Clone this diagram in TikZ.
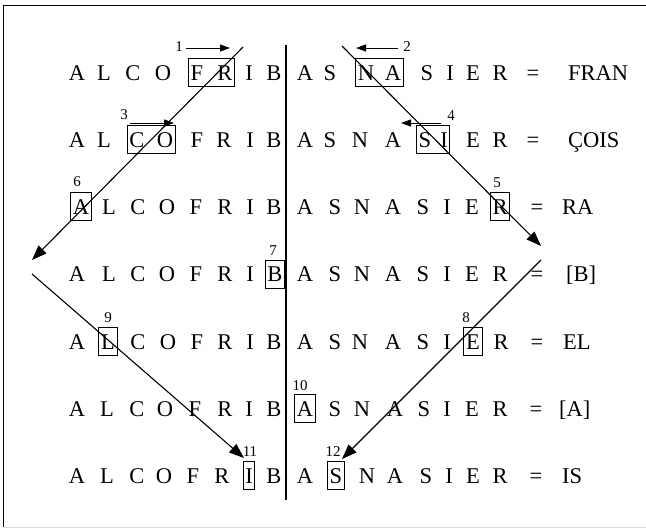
\documentclass[tikz,border=0pt]{standalone}
\usepackage{fontspec}
\setmainfont{Liberation Serif}
\usetikzlibrary{fit,arrows.meta}
\newcommand\LetterRow[6]{%
  \foreach \l/\x [count=\c] in {#3} {\node[ltr] (r#1c\c) at (\x,#2) {\l};}
  \node[ltr] (r#1eq) at (#4,#2) {=};
  \node[res] (r#1res) at (#5,#2) {#6};
}
\begin{document}
\begin{tikzpicture}[x=1pt,y=-1pt,
  ltr/.style={anchor=base, inner sep=0pt, font=\fontsize{22.5}{27}\selectfont},
  res/.style={anchor=base west, inner sep=0pt, font=\fontsize{22.5}{27}\selectfont},
  lbox/.style={draw, line width=1pt, inner xsep=2pt, inner ysep=6.5pt},
  num/.style={inner sep=0pt, font=\fontsize{15}{18}\selectfont},
  sarrow/.style={line width=1pt, -{Triangle[length=10pt,width=7pt]}},
  larrow/.style={line width=1.1pt, -{Triangle[length=15pt,width=11pt]}},
  frame/.style={line width=1.5pt}]
\useasboundingbox (0,0) rectangle (646,528);
\coordinate (f1) at (3.5,527);
\coordinate (f2) at (3.5,5.5);
\coordinate (f3) at (646,5.5);
\coordinate (f4) at (646,527);
\draw[frame] (f1) -- (f2) -- (f3);
\draw[black!15, line width=1pt] (f1) -- (f4);

\LetterRow{1}{80}{A/77,L/104,C/133,O/163,F/197,R/225,I/249,B/274,A/305,S/330,N/366,A/393,S/427,I/450,E/473,R/500}{533}{568}{FRAN}
\LetterRow{2}{147}{A/77,L/104,C/137,O/165,F/197,R/224,I/250,B/274,A/305,S/330,N/360,A/393,S/425,I/444,E/473,R/500}{533}{568}{ÇOIS}
\LetterRow{3}{214}{A/81,L/109,C/138,O/167,F/196,R/225,I/250,B/274,A/305,S/335,N/362,A/393,S/423,I/447,E/472,R/500}{537}{562}{RA}
\LetterRow{4}{281.5}{A/77,L/109,C/138,O/167,F/196,R/225,I/250,B/275,A/305,S/335,N/362,A/393,S/423,I/447,E/472,R/500}{537}{566}{[B]}
\LetterRow{5}{349}{A/77,L/108,C/138,O/168,F/197,R/225,I/250,B/274,A/305,S/335,N/360,A/393,S/423,I/447,E/473,R/501}{537}{563}{EL}
\LetterRow{6}{416}{A/77,L/107,C/137,O/165,F/195,R/225,I/249,B/274,A/305,S/335,N/362,A/395,S/424,I/447,E/472,R/500}{536}{559}{[A]}
\LetterRow{7}{483}{A/77,L/107,C/137,O/164,F/193,R/222,I/249,B/274,A/305,S/336,N/367,A/395,S/426,I/449,E/473,R/500}{536}{562}{IS}

\node[lbox, fit=(r1c5)(r1c6)] (b1) {};
\node[lbox, fit=(r1c11)(r1c12)] (b2) {};
\node[lbox, fit=(r2c3)(r2c4)] (b3) {};
\node[lbox, fit=(r2c13)(r2c14)] (b4) {};
\node[lbox, fit=(r3c16)] (b5) {};
\node[lbox, fit=(r3c1)] (b6) {};
\node[lbox, fit=(r4c8)] (b7) {};
\node[lbox, fit=(r5c15)] (b8) {};
\node[lbox, fit=(r5c2)] (b9) {};
\node[lbox, fit=(r6c9)] (b10) {};
\node[lbox, fit=(r7c7)] (b11) {};
\node[lbox, fit=(r7c10)] (b12) {};

\node[num] (n1) at (179,47) {1};
\node[num] (n2) at (407,47) {2};
\node[num] (n3) at (124,115) {3};
\node[num] (n4) at (451,116) {4};
\node[num] (n5) at (497,183) {5};
\node[num] (n6) at (77,182) {6};
\node[num] (n7) at (273,251) {7};
\node[num] (n8) at (466,318) {8};
\node[num] (n9) at (108,318) {9};
\node[num] (n10) at (300,386) {10};
\node[num] (n11) at (250,452) {11};
\node[num] (n12) at (333,452) {12};

\coordinate (a1s) at (186,48);  \coordinate (a1e) at (230,48);
\coordinate (a2s) at (398,48);  \coordinate (a2e) at (356,48);
\coordinate (a3s) at (130,123); \coordinate (a3e) at (174,123);
\coordinate (a4s) at (441,123); \coordinate (a4e) at (401,123);
\draw[sarrow] (a1s) -- (a1e);
\draw[sarrow] (a2s) -- (a2e);
\draw[sarrow] (a3s) -- (a3e);
\draw[sarrow] (a4s) -- (a4e);

\coordinate (d1) at (286,45);
\coordinate (d2) at (286,500);
\draw[line width=1.1pt] (d1) -- (d2);

\coordinate (p1) at (243,47);
\coordinate (p2) at (32,260);
\coordinate (p3) at (32,274);
\coordinate (p4) at (244,458);
\coordinate (q1) at (342,46);
\coordinate (q2) at (541,246);
\coordinate (q3) at (541,260);
\coordinate (q4) at (342,459);
\draw[larrow] (p1) -- (p2);
\draw[larrow] (p3) -- (p4);
\draw[larrow] (q1) -- (q2);
\draw[larrow] (q3) -- (q4);
\end{tikzpicture}
\end{document}
